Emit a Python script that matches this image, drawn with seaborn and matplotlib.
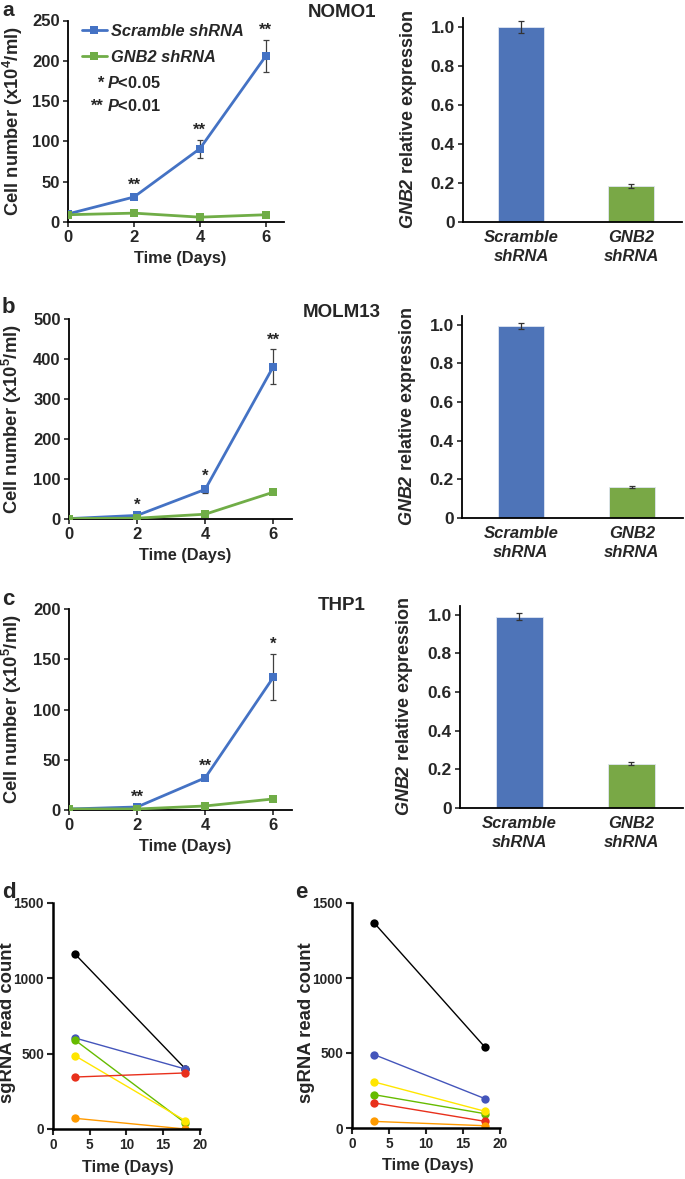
import numpy as np
import pandas as pd
import matplotlib
matplotlib.use("Agg")
import matplotlib.pyplot as plt
from matplotlib import font_manager
import seaborn as sns

# ---------------- DATA ----------------
days = [0, 2, 4, 6]
groups = ["Scramble shRNA", "GNB2 shRNA"]

nomo1_scr = [10, 31, 91, 206]
nomo1_scr_err = [1, 3, 11, 20]
nomo1_gnb2 = [9, 11, 6, 9]
nomo1_gnb2_err = [1, 1, 1, 1]
nomo1_stars = ["", "**", "**", "**"]

molm13_scr = [1, 9, 74, 381]
molm13_scr_err = [0.5, 2, 8, 43]
molm13_gnb2 = [1, 2, 12, 67]
molm13_gnb2_err = [0.5, 1, 1, 3]
molm13_stars = ["", "*", "*", "**"]

thp1_scr = [1, 3, 32, 132]
thp1_scr_err = [0.3, 0.5, 1.5, 23]
thp1_gnb2 = [1, 1, 4, 11]
thp1_gnb2_err = [0.2, 0.2, 0.5, 0.5]
thp1_stars = ["", "**", "**", "*"]

bar_groups = ["Scramble\nshRNA", "GNB2\nshRNA"]
nomo1_expr = [1.0, 0.185]
nomo1_expr_err = [0.03, 0.01]
molm13_expr = [0.995, 0.16]
molm13_expr_err = [0.016, 0.004]
thp1_expr = [0.99, 0.23]
thp1_expr_err = [0.02, 0.006]
bar_yticks = [0, 0.2, 0.4, 0.6, 0.8, 1.0]
bar_yticklabels = ["0", "0.2", "0.4", "0.6", "0.8", "1.0"]

sg_days = [3, 18]
sg_guides = ["sg1", "sg2", "sg3", "sg4", "sg5", "sg6"]
d_start = [1161, 604, 590, 486, 345, 71]
d_end = [400, 398, 40, 55, 372, 0]
e_start = [1367, 489, 222, 307, 167, 44]
e_end = [537, 195, 95, 111, 44, 15]

# ---------------- STYLE ----------------
sns.set_style("ticks")
names = {f.name for f in font_manager.fontManager.ttflist}
NARROW = "Liberation Sans Narrow" if "Liberation Sans Narrow" in names else "Liberation Sans"
narrow_scale = 1.0 if NARROW == "Liberation Sans Narrow" else 0.9
plt.rcParams["font.family"] = ["Liberation Sans", "DejaVu Sans"]
plt.rcParams["font.weight"] = "bold"
plt.rcParams["mathtext.fontset"] = "custom"
plt.rcParams["mathtext.rm"] = "Liberation Sans:bold"
plt.rcParams["mathtext.bf"] = "Liberation Sans:bold"
plt.rcParams["mathtext.it"] = "Liberation Sans:italic:bold"
plt.rcParams["mathtext.bfit"] = "Liberation Sans:italic:bold"

BLUE_L = "#4472C4"
GREEN_L = "#70AD47"
BLUE_B = "#4E74B8"
GREEN_B = "#79A846"
sg_colors = ["#000000", "#4455BB", "#66BB00", "#FFE600", "#E8301C", "#FF9A00"]

W, H = 685, 1179
fig = plt.figure(figsize=(W / 100, H / 100), dpi=100)


def rect(l, t, r, b):
    return [l / W, 1 - b / H, (r - l) / W, (b - t) / H]


def style_axes(ax, lw=1.3):
    sns.despine(ax=ax)
    for s in ("left", "bottom"):
        ax.spines[s].set_linewidth(lw)
        ax.spines[s].set_color("black")


def line_panel(ax, scr, scr_err, gnb, gnb_err, stars, ylim, yticks, exponent, legend):
    df = pd.DataFrame({
        "day": days * 2,
        "value": scr + gnb,
        "group": [groups[0]] * len(days) + [groups[1]] * len(days),
    })
    ax.errorbar(days, scr, yerr=scr_err, fmt="none", ecolor="#404040",
                elinewidth=0.9, capsize=2.5, capthick=0.9, zorder=1)
    ax.errorbar(days, gnb, yerr=gnb_err, fmt="none", ecolor="#404040",
                elinewidth=0.9, capsize=2.5, capthick=0.9, zorder=1)
    sns.lineplot(data=df, x="day", y="value", hue="group", hue_order=groups,
                 palette={groups[0]: BLUE_L, groups[1]: GREEN_L},
                 marker="s", markersize=5.5, markeredgewidth=0, linewidth=2,
                 ax=ax, legend=legend, zorder=3)
    for d, v, e, s in zip(days, scr, scr_err, stars):
        if s:
            ax.annotate(s, (d, v + e), xytext=(0, 1.5), textcoords="offset points",
                        ha="center", va="bottom", fontsize=12, fontweight="bold")
    ax.set_ylim(*ylim)
    ax.set_xlim(0, 6.55)
    ax.set_yticks(yticks)
    ax.set_xticks(days)
    ax.tick_params(axis="both", labelsize=12, length=3.5, width=1.2, pad=2.5)
    for lab in ax.get_xticklabels() + ax.get_yticklabels():
        lab.set_fontweight("bold")
    ax.set_ylabel(r"Cell number (x10$^{\mathbf{%d}}$/ml)" % exponent,
                  fontsize=13.2, fontweight="bold")
    ax.yaxis.set_label_coords(-0.2, 0.5)
    ax.set_xlabel("Time (Days)", fontsize=11.8, fontweight="bold")
    ax.xaxis.set_label_coords(0.52, -0.145)
    style_axes(ax)


def bar_panel(ax, vals, errs):
    df = pd.DataFrame({"group": bar_groups, "value": vals})
    sns.barplot(data=df, x="group", y="value", hue="group",
                palette=[BLUE_B, GREEN_B], width=0.42, ax=ax, legend=False,
                edgecolor="#dfe6f2", linewidth=0.6, saturation=1)
    ax.errorbar([0, 1], vals, yerr=errs, fmt="none", ecolor="#333333",
                elinewidth=0.9, capsize=2.5, capthick=0.9, zorder=5)
    ax.set_xlim(-0.53, 1.46)
    ax.set_ylim(0, 1.045)
    ax.set_yticks(bar_yticks)
    ax.set_yticklabels(bar_yticklabels)
    ax.tick_params(axis="y", labelsize=12.5, length=3.5, width=1.2, pad=2.5)
    ax.tick_params(axis="x", length=0, pad=6)
    for lab in ax.get_yticklabels():
        lab.set_fontweight("bold")
    for lab in ax.get_xticklabels():
        lab.set_fontweight("bold")
        lab.set_fontstyle("italic")
        lab.set_fontsize(12)
        lab.set_linespacing(1.3)
    ax.set_xlabel("")
    ax.set_ylabel(r"$\mathbfit{GNB2}$ relative expression", fontsize=13,
                  fontweight="bold")
    ax.yaxis.set_label_coords(-0.2, 0.5)
    style_axes(ax)


def sg_panel(ax, start, end):
    df = pd.DataFrame({
        "day": sg_days * len(sg_guides),
        "count": [v for pair in zip(start, end) for v in pair],
        "guide": [g for g in sg_guides for _ in sg_days],
    })
    sns.lineplot(data=df, x="day", y="count", hue="guide", hue_order=sg_guides,
                 palette=dict(zip(sg_guides, sg_colors)), marker="o",
                 markersize=6, markeredgewidth=0, linewidth=1.0, ax=ax,
                 legend=False)
    ax.set_xlim(0, 20)
    ax.set_ylim(0, 1500)
    ax.set_xticks([0, 5, 10, 15, 20])
    ax.set_yticks([0, 500, 1000, 1500])
    ax.tick_params(axis="both", labelsize=11 * narrow_scale, length=4, width=1.5, pad=2.5)
    for lab in ax.get_xticklabels() + ax.get_yticklabels():
        lab.set_fontfamily([NARROW, "Liberation Sans"])
        lab.set_fontweight("bold")
    ax.set_ylabel("sgRNA read count", fontsize=13.3, fontweight="bold")
    ax.yaxis.set_label_coords(-0.25, 0.47)
    ax.set_xlabel("Time (Days)", fontsize=13 * narrow_scale, fontweight="bold",
                  family=[NARROW, "Liberation Sans"])
    ax.xaxis.set_label_coords(0.51, -0.135)
    style_axes(ax, lw=1.8)


# ---------------- PANELS ----------------
ax_a = fig.add_axes(rect(68, 20.5, 284, 222))
line_panel(ax_a, nomo1_scr, nomo1_scr_err, nomo1_gnb2, nomo1_gnb2_err, nomo1_stars,
           (0, 250), [0, 50, 100, 150, 200, 250], 4, True)
leg = ax_a.legend(loc="upper left", bbox_to_anchor=(0.065, 0.985), frameon=False,
                  prop=dict(family="Liberation Sans", weight="bold", style="italic", size=11.8),
                  handlelength=1.5, handletextpad=0.25, labelspacing=0.68,
                  borderpad=0, borderaxespad=0)

for ystar, stars, ptxt in [(83, "*", r"$\mathbfit{P}$<0.05"), (106, "**", r"$\mathbfit{P}$<0.01")]:
    fig.text(103 / W, 1 - ystar / H, stars, ha="right", va="center", fontsize=11.8,
             fontweight="bold")
    fig.text(107 / W, 1 - ystar / H, ptxt, ha="left", va="center", fontsize=11.8,
             fontweight="bold")

ax_ab = fig.add_axes(rect(463, 18, 682, 222))
bar_panel(ax_ab, nomo1_expr, nomo1_expr_err)

ax_b = fig.add_axes(rect(69, 319, 292, 519))
line_panel(ax_b, molm13_scr, molm13_scr_err, molm13_gnb2, molm13_gnb2_err, molm13_stars,
           (0, 500), [0, 100, 200, 300, 400, 500], 5, False)
ax_bb = fig.add_axes(rect(462, 316, 683, 518))
bar_panel(ax_bb, molm13_expr, molm13_expr_err)

ax_c = fig.add_axes(rect(69, 609, 292, 810))
line_panel(ax_c, thp1_scr, thp1_scr_err, thp1_gnb2, thp1_gnb2_err, thp1_stars,
           (0, 200), [0, 50, 100, 150, 200], 5, False)
ax_cb = fig.add_axes(rect(460, 606, 683, 808))
bar_panel(ax_cb, thp1_expr, thp1_expr_err)

ax_d = fig.add_axes(rect(53, 903, 200, 1129))
sg_panel(ax_d, d_start, d_end)
ax_e = fig.add_axes(rect(352, 903, 500, 1128))
sg_panel(ax_e, e_start, e_end)

# titles
for txt, yb in [("NOMO1", 17), ("MOLM13", 317), ("THP1", 610)]:
    fig.text(342 / W, 1 - yb / H, txt, ha="center", va="baseline", fontsize=13.5,
             fontweight="bold")

# panel letters
fig.text(2 / W, 1 - 1 / H, "a", ha="left", va="top", fontsize=15, fontweight="bold")
for txt, x, yb in [("b", 2, 313), ("c", 2, 605), ("d", 2, 898), ("e", 295, 898)]:
    fig.text(x / W, 1 - yb / H, txt, ha="left", va="baseline", fontsize=16,
             fontweight="bold")

fig.savefig("out.png", dpi=100)
